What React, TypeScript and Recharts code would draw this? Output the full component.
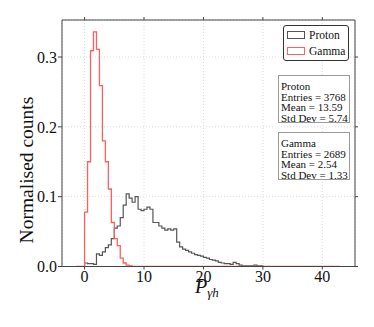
import { ComposedChart, Line, XAxis, YAxis, CartesianGrid } from 'recharts';

// histogram bins are 0.5 wide, first value is the bin starting at x = 0
const BIN_WIDTH = 0.5;
const FIRST_EDGE = -1.5;
const LAST_EDGE = 43;

const gammaCounts = [
  0.078, 0.15, 0.309, 0.336, 0.311, 0.259, 0.18, 0.15, 0.111, 0.063,
  0.04, 0.03, 0.012, 0.005, 0.002, 0.001,
];

const protonCounts = [
  0.005, 0.004, 0.004, 0.003, 0.018, 0.016, 0.021, 0.027, 0.031, 0.04,
  0.055, 0.058, 0.07, 0.088, 0.104, 0.098, 0.092, 0.1, 0.082, 0.08,
  0.082, 0.085, 0.082, 0.063, 0.063, 0.058, 0.055, 0.052, 0.054, 0.052,
  0.054, 0.035, 0.028, 0.025, 0.023, 0.021, 0.019, 0.017, 0.016, 0.015,
  0.013, 0.012, 0.01, 0.009, 0.008, 0.006, 0.005, 0.004, 0.004, 0.003,
  0.006, 0.004, 0.002, 0.001, 0.001, 0.001, 0.001, 0.002, 0.001, 0.001,
];

const xTicks = [0, 10, 20, 30, 40];
const yTicks = [0, 0.1, 0.2, 0.3];

const protonStats = ['Proton', 'Entries = 3768', 'Mean = 13.59', 'Std Dev = 5.74'];
const gammaStats = ['Gamma', 'Entries = 2689', 'Mean = 2.54', 'Std Dev = 1.33'];

const rows: { x: number; proton: number; gamma: number }[] = [];
for (let e = FIRST_EDGE; e <= LAST_EDGE + 1e-9; e += BIN_WIDTH) {
  const i = Math.round(e / BIN_WIDTH);
  rows.push({
    x: e,
    proton: i >= 0 ? protonCounts[i] ?? 0 : 0,
    gamma: i >= 0 ? gammaCounts[i] ?? 0 : 0,
  });
}

const FONT = '"Liberation Serif", "Times New Roman", serif';
const AXIS = '#444';
const PROTON = '#555';
const GAMMA = '#ff5f5f';

function StatsBox({ lines, top }: { lines: string[]; top: number }) {
  return (
    <div
      style={{
        position: 'absolute', left: 278, top, width: 72, height: 48,
        border: '1px solid #999', background: '#fff', fontSize: 11, whiteSpace: 'nowrap',
        lineHeight: '10.6px', padding: '5px 0 0 2px', boxSizing: 'border-box', color: '#111',
      }}
    >
      {lines.map((l) => <div key={l}>{l}</div>)}
    </div>
  );
}

export default function App() {
  return (
    <div style={{ position: 'absolute', left: 0, top: 0, width: 374, height: 327, background: '#fff', fontFamily: FONT }}>
      <ComposedChart width={374} height={327} data={rows} margin={{ top: 15, right: 14, bottom: 30.5, left: 22 }}>
        <CartesianGrid stroke="#ddd" strokeDasharray="1 2" />
        <XAxis
          dataKey="x" type="number" domain={[-3.8, 45.5]} ticks={xTicks} allowDataOverflow
          height={30} stroke={AXIS} tickSize={3} tickMargin={1}
          tick={{ fill: '#111', fontSize: 16, fontFamily: FONT }}
        />
        <XAxis
          xAxisId="top" orientation="top" dataKey="x" type="number" domain={[-3.8, 45.5]} ticks={xTicks}
          allowDataOverflow height={5} stroke={AXIS} tickSize={3} tickFormatter={() => ''}
        />
        <YAxis
          domain={[0, 0.353]} ticks={yTicks} allowDataOverflow width={40} stroke={AXIS}
          tickSize={4} tickMargin={1} tickFormatter={(v: number) => v.toFixed(1)}
          tick={{ fill: '#111', fontSize: 16, fontFamily: FONT }}
        />
        <YAxis
          yAxisId="right" orientation="right" domain={[0, 0.353]} ticks={yTicks} allowDataOverflow
          width={5} stroke={AXIS} tickSize={3} tickFormatter={() => ''}
        />
        <Line dataKey="proton" type="stepAfter" stroke={PROTON} strokeWidth={1.2} dot={false} isAnimationActive={false} />
        <Line dataKey="gamma" type="stepAfter" stroke={GAMMA} strokeWidth={1.3} dot={false} isAnimationActive={false} />
      </ComposedChart>

      {/* axis titles */}
      <div
        style={{
          position: 'absolute', left: 27, top: 170, fontSize: 19.5, whiteSpace: 'nowrap', color: '#111',
          transform: 'translate(-50%, -50%) rotate(-90deg)',
        }}
      >
        Normalised counts
      </div>
      <div style={{ position: 'absolute', left: 195, top: 279, fontSize: 20, lineHeight: '14px', fontStyle: 'italic', color: '#111', whiteSpace: 'nowrap' }}>
        P<span style={{ fontSize: 13, position: 'relative', top: 4 }}>γh</span>
      </div>

      {/* legend */}
      <div
        style={{
          position: 'absolute', left: 283, top: 25, width: 66, height: 36, border: '1px solid #333',
          borderRadius: 3, boxSizing: 'border-box', fontSize: 11.5, color: '#111', background: '#fff',
        }}
      >
        {[['Proton', PROTON], ['Gamma', GAMMA]].map(([name, c], i) => (
          <div key={name} style={{ position: 'absolute', left: 3, top: 3 + i * 16, display: 'flex', alignItems: 'center', whiteSpace: 'nowrap' }}>
            <span style={{ display: 'inline-block', width: 16, height: 6, border: `1px solid ${c}`, marginRight: 4 }} />
            <span>{name}</span>
          </div>
        ))}
      </div>

      <StatsBox lines={protonStats} top={75} />
      <StatsBox lines={gammaStats} top={132} />
    </div>
  );
}
